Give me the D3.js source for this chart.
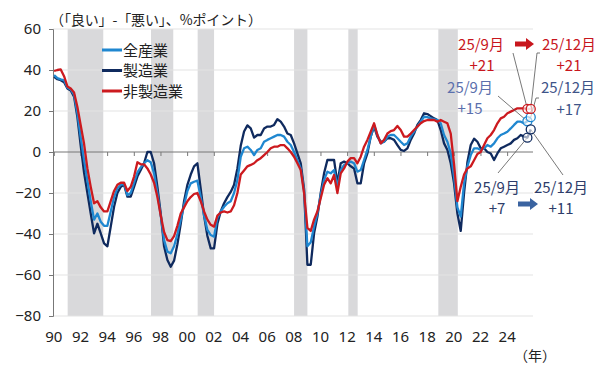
<!DOCTYPE html>
<html>
<head>
<meta charset="utf-8">
<script src="https://cdn.jsdelivr.net/npm/d3@7"></script>
<style>
  body { margin: 0; background: #fff; }
  svg text { font-family: "Noto Sans CJK JP", "Noto Sans", sans-serif; }
</style>
</head>
<body>
<div id="chart"></div>
<script>
// quarterly DI, 1990Q1 - 2025Q4 (4 values per line = one year)
const allIndustries = [
  37.5, 36, 35.4, 35,        // 1990
  31.5, 30.5, 28, 19,        // 1991
  7, -4, -14, -24,           // 1992
  -33, -30, -34, -36,        // 1993
  -36, -29, -22, -17.7,      // 1994
  -16, -15.5, -21, -20,      // 1995
  -15, -10, -7.5, -5.5,      // 1996
  -4, -5, -10.4, -20,        // 1997
  -31, -43, -48.6, -49.4,    // 1998
  -46, -40, -33, -26,        // 1999
  -19, -15.3, -14.5, -14,    // 2000
  -22, -31, -38, -40.5,      // 2001
  -41.3, -32, -29, -26.7,    // 2002
  -25, -24, -20, -13.7,      // 2003
  -2.3, 1.8, 2.6, 1,         // 2004
  -1.5, 1, 1.8, 5,           // 2005
  5.9, 6.7, 7.5, 8.3,        // 2006
  8.3, 7.5, 5, 3.4,          // 2007
  0, -4, -8, -19,            // 2008
  -46, -44, -36.4, -30,      // 2009
  -21, -13.7, -9.6, -10.4,   // 2010
  -8.8, -17, -8.8, -6.3,     // 2011
  -5.5, -4.7, -5.5, -9.6,    // 2012
  -8.8, -3.9, 1, 7.5,        // 2013
  13.2, 8.3, 4.2, 5,         // 2014
  7.5, 8.3, 8.3, 6.7,        // 2015
  5, 3.4, 4.2, 7.5,          // 2016
  9.9, 12.4, 14.8, 17.2,     // 2017
  17, 16.4, 16, 15.6,        // 2018
  14, 8.3, 5, -0.7,          // 2019
  -12, -27, -31.5, -15.3,    // 2020
  -7, -1.5, 1.8, 1.8,        // 2021
  1, 1.8, 3.4, 2.6,          // 2022
  4.2, 6.7, 8.3, 9,          // 2023
  9.9, 11.5, 13.2, 14.8,     // 2024
  14.8, 14, 15, 17           // 2025
];

const manufacturing = [
  36.7, 35.5, 35, 34,
  31, 30, 27, 17,
  3, -10, -20, -30,
  -39.7, -35, -39.7, -44.6,
  -46, -36.4, -26.7, -20,
  -17, -16, -21.8, -21.8,
  -17, -12, -8.8, -5.5,
  0, 0, -5.5, -17,
  -30, -46, -52.7, -56,
  -53, -45, -35, -24,
  -16, -11, -7, -5.5,
  -18, -31, -41, -47,
  -47, -35, -29, -25,
  -22, -19.5, -16, -8,
  3, 10, 13, 11.5,
  7, 8.3, 8.3, 11.5,
  12.4, 12.4, 13.2, 16,
  14.8, 12.4, 9, 8.3,
  4.2, -0.7, -5.5, -18,
  -55, -55, -39.7, -31.5,
  -20, -10.4, -3.9, -3.9,
  -3.9, -15.3, -5.5, -4.7,
  -5.5, -7, -8, -15.3,
  -15.3, -5.5, -0.7, 7.5,
  12.4, 7.5, 5, 5,
  6.7, 6.7, 5.9, 3.4,
  1, 0.5, 1.8, 5.9,
  9, 13.2, 15.6, 18.9,
  18.5, 17.5, 16.4, 15.6,
  10.7, 4.2, 1, -5.5,
  -15.3, -30, -38.5, -20,
  -5, 3.4, 6.5, 5,
  1.8, 1.8, 0, -0.7,
  -3.9, -0.7, 1.8, 2.6,
  3.4, 4.2, 5.9, 6.7,
  8.3, 7.5, 7, 11
];

const nonManufacturing = [
  39.5, 40, 40.3, 37,
  32, 31, 29, 22,
  13, 4, -8, -17,
  -25, -24, -27, -29,
  -29, -24, -19, -16,
  -15, -15, -19, -17,
  -12, -5, -6, -6,
  -8, -11, -15, -22,
  -31, -39, -43, -43.5,
  -41, -36, -30, -27,
  -24, -22, -20.5, -20,
  -24, -29, -33, -35.5,
  -36.4, -31, -29.5, -29,
  -29.5, -29, -26, -20,
  -11, -9, -7, -6.3,
  -5.5, -4, -3, -1.5,
  0, 1.8, 2.6, 2.6,
  3.4, 3.4, 1.8, 0,
  -2.3, -5.5, -8.8, -20,
  -37, -38.5, -33, -29,
  -22.6, -16, -12.8, -15.3,
  -11.2, -20, -10.4, -8,
  -4.7, -3, -3, -5.5,
  -2.3, 2.6, 5.9, 9.9,
  14, 8.3, 4.2, 5.9,
  9, 10.2, 10.7, 12.7,
  10.7, 7.5, 7.5, 9,
  10.7, 12.4, 14, 15.1,
  15.6, 15.6, 15.6, 14.8,
  15.6, 14.8, 14, 9,
  -6, -24, -17, -11,
  -8, -7, -4, -1,
  0, 3.4, 6.7, 8.3,
  10.7, 14, 16.4, 17.2,
  18.9, 19.7, 20.5, 21.3,
  21.3, 21.3, 21, 21
];

const firstYear = 1990;
const seriesNames = ["全産業", "製造業", "非製造業"];
const seriesColors = ["#1f87d0", "#0f2a5e", "#cc1a1f"];
const yTicks = [60, 40, 20, 0, -20, -40, -60, -80];
const xTickYears = d3.range(1990, 2025, 2);
// recession periods (start, end) as fractional years
const recessions = [
  [1991.1, 1993.77], [1997.35, 1999.02], [2000.85, 2002.08],
  [2008.08, 2009.08], [2012.15, 2012.85], [2018.9, 2020.36]
];

const width = 600, height = 371;
const margin = { top: 29, right: 67, bottom: 55, left: 53 };

const svg = d3.select("#chart").append("svg")
  .attr("width", width)
  .attr("height", height);

const x = d3.scaleLinear()
  .domain([1990, 2026])
  .range([margin.left, width - margin.right]);

const y = d3.scaleLinear()
  .domain([-80, 60])
  .range([height - margin.bottom, margin.top]);

const qTime = i => firstYear + i / 4 + 0.08;

// recession bands
svg.append("g")
  .selectAll("rect")
  .data(recessions)
  .join("rect")
  .attr("x", d => x(d[0]))
  .attr("width", d => x(d[1]) - x(d[0]))
  .attr("y", y(60))
  .attr("height", y(-80) - y(60))
  .attr("fill", "#d9d9db");

// gridlines
svg.append("g")
  .selectAll("line")
  .data(yTicks.filter(v => v !== 0))
  .join("line")
  .attr("x1", x(1990))
  .attr("x2", x(2026))
  .attr("y1", d => y(d))
  .attr("y2", d => y(d))
  .attr("stroke", "#e3e3e3")
  .attr("stroke-width", 1);

// y axis
const yAxis = svg.append("g")
  .attr("transform", `translate(${x(1990)},0)`)
  .call(d3.axisLeft(y).tickValues(yTicks).tickSize(4).tickPadding(8));
yAxis.select(".domain").attr("stroke", "#777");
yAxis.selectAll(".tick line").attr("stroke", "#777");
yAxis.selectAll(".tick text")
  .attr("font-size", 15)
  .attr("fill", "#222")
  .style("font-family", "\"Noto Sans\", sans-serif");

// zero line with year ticks
const zeroAxis = svg.append("g")
  .attr("transform", `translate(0,${y(0)})`)
  .call(d3.axisBottom(x).tickValues(xTickYears.map(v => v + 0.06)).tickSize(4).tickFormat(""));
zeroAxis.select(".domain").attr("stroke", "#777").attr("d", `M${x(1990)},0H${x(2026)}`);
zeroAxis.selectAll(".tick line").attr("stroke", "#777");

// year labels at bottom
svg.append("g")
  .selectAll("text")
  .data(xTickYears)
  .join("text")
  .attr("x", d => x(d + 0.06))
  .attr("y", 342)
  .attr("text-anchor", "middle")
  .attr("font-size", 15)
  .attr("fill", "#222")
  .style("font-family", "\"Noto Sans\", sans-serif")
  .text(d => String(d % 100).padStart(2, "0"));

svg.append("text")
  .attr("x", 535)
  .attr("y", 361)
  .attr("text-anchor", "middle")
  .attr("font-size", 14)
  .attr("fill", "#222")
  .text("（年）");

svg.append("text")
  .attr("x", 50)
  .attr("y", 25)
  .attr("font-size", 14)
  .attr("fill", "#222")
  .attr("textLength", 212)
  .attr("lengthAdjust", "spacing")
  .text("（「良い」-「悪い」、%ポイント）");

// lines
const series = [allIndustries, manufacturing, nonManufacturing];
const line = d3.line()
  .x((d, i) => x(qTime(i)))
  .y(d => y(d));

[1, 0, 2].forEach(k => {
  svg.append("path")
    .datum(series[k])
    .attr("fill", "none")
    .attr("stroke", seriesColors[k])
    .attr("stroke-width", 2.3)
    .attr("stroke-linejoin", "round")
    .attr("d", line);
});

// legend
const legend = svg.append("g");
seriesNames.forEach((name, k) => {
  const ly = 50 + k * 20.5;
  legend.append("line")
    .attr("x1", 102).attr("x2", 122)
    .attr("y1", ly).attr("y2", ly)
    .attr("stroke", seriesColors[k])
    .attr("stroke-width", 3);
  legend.append("text")
    .attr("x", 123)
    .attr("y", ly + 5.5)
    .attr("font-size", 15)
    .attr("fill", "#222")
    .text(name);
});

// annotations for the last two quarters
const lastIdx = [142, 143];
const leader = (pts) => svg.append("polyline")
  .attr("points", pts.map(p => p.join(",")).join(" "))
  .attr("fill", "none")
  .attr("stroke", "#555")
  .attr("stroke-width", 0.8);

leader([[513, 53], [x(qTime(142)), y(nonManufacturing[142])]]);
leader([[540, 53], [537, 53], [x(qTime(143)), y(nonManufacturing[143])]]);
leader([[498, 96], [x(qTime(142)), y(allIndustries[142])]]);
leader([[539, 98], [536, 98], [x(qTime(143)), y(allIndustries[143])]]);
leader([[498, 173], [x(qTime(142)), y(manufacturing[142])]]);
leader([[563, 175], [x(qTime(143)), y(manufacturing[143])]]);

[0, 1, 2].forEach(k => {
  svg.append("g")
    .selectAll("circle")
    .data(lastIdx)
    .join("circle")
    .attr("cx", i => x(qTime(i)))
    .attr("cy", i => y(series[k][i]))
    .attr("r", 4.5)
    .attr("fill", "#fff")
    .attr("fill-opacity", 0.6)
    .attr("stroke", seriesColors[k])
    .attr("stroke-width", 1.3);
});

const fmt = v => "+" + Math.round(v);
const labels = [
  { x: 481, y: 50, t: "25/9月", c: "#c8161d" },
  { x: 482, y: 71, t: fmt(nonManufacturing[142]), c: "#c8161d" },
  { x: 569, y: 50, t: "25/12月", c: "#c8161d" },
  { x: 569, y: 71, t: fmt(nonManufacturing[143]), c: "#c8161d" },
  { x: 470, y: 93, t: "25/9月", c: "#5b70ad" },
  { x: 470, y: 114, t: fmt(allIndustries[142]), c: "#5b70ad" },
  { x: 568, y: 93, t: "25/12月", c: "#3e5488" },
  { x: 569, y: 115, t: fmt(allIndustries[143]), c: "#3e5488" },
  { x: 497, y: 193, t: "25/9月", c: "#2e3c6a" },
  { x: 497, y: 214, t: fmt(manufacturing[142]), c: "#2e3c6a" },
  { x: 561, y: 193, t: "25/12月", c: "#2e3c6a" },
  { x: 561, y: 214, t: fmt(manufacturing[143]), c: "#2e3c6a" }
];
svg.append("g")
  .selectAll("text")
  .data(labels)
  .join("text")
  .attr("x", d => d.x)
  .attr("y", d => d.y)
  .attr("text-anchor", "middle")
  .attr("font-size", 15)
  .attr("fill", d => d.c)
  .text(d => d.t);

// block arrows
const arrow = (x0, yc, len, col) => svg.append("path")
  .attr("d", `M${x0},${yc - 2.5}H${x0 + len - 8}V${yc - 6}L${x0 + len},${yc}L${x0 + len - 8},${yc + 6}V${yc + 2.5}H${x0}Z`)
  .attr("fill", col);
arrow(515, 44, 19, "#c8161d");
arrow(518, 204, 20, "#3a63a0");
</script>
</body>
</html>
